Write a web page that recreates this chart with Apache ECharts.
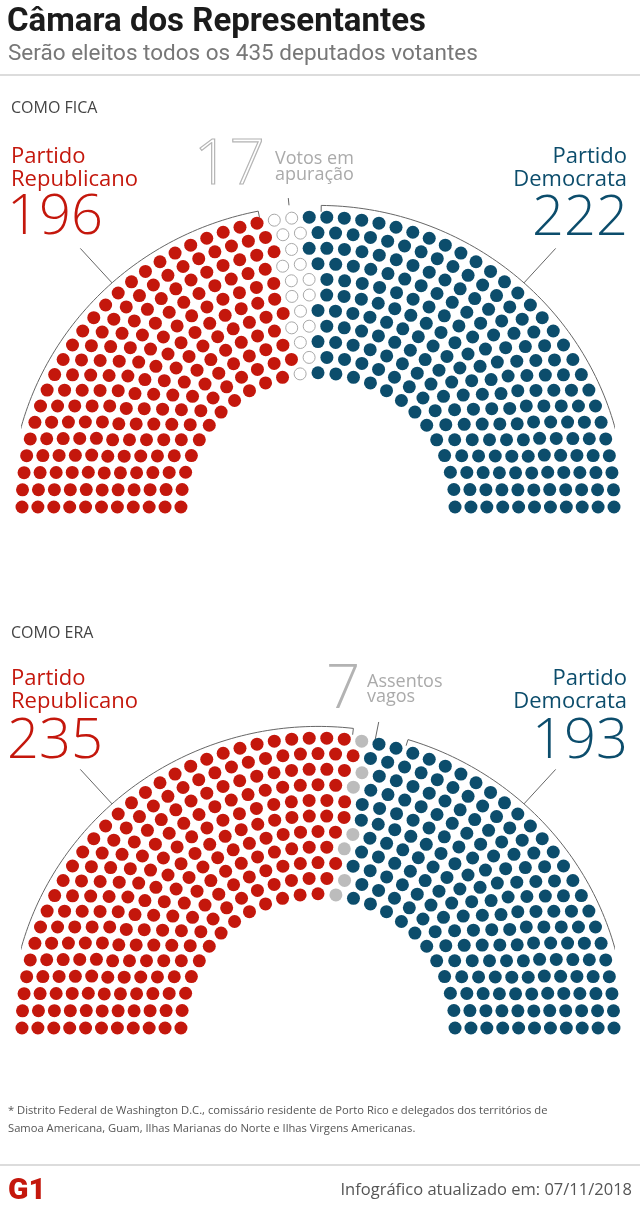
<!DOCTYPE html>
<html>
<head>
<meta charset="utf-8">
<script src="https://cdn.jsdelivr.net/npm/echarts@6/dist/echarts.min.js"></script>
<style>
html,body{margin:0;padding:0;background:#fff;}
#chart{width:640px;height:1220px;}
</style>
</head>
<body>
<div id="chart"></div>
<script>
// ---------------- DATA ----------------
const TOTAL_SEATS = 435;
const RING_COUNT = 11;

const groupsNow = ['Partido Republicano', 'Votos em apuração', 'Partido Democrata'];
const seatsNow = [196, 17, 222];

const groupsBefore = ['Partido Republicano', 'Assentos vagos', 'Partido Democrata'];
const seatsBefore = [235, 7, 193];

const sectionTitles = ['COMO FICA', 'COMO ERA'];

// ---------------- LAYOUT / STYLE ----------------
const INNER_RATIO = 0.463;      // inner ring radius relative to outer ring
const RED = '#c4170c';
const BLUE = '#0c4d6c';
const GREY = '#bcbcbc';
const LINE = '#666';

function ringRadii() {
  const r = [];
  for (let i = 0; i < RING_COUNT; i++) r.push(INNER_RATIO + i * (1 - INNER_RATIO) / (RING_COUNT - 1));
  return r;
}
function ringSeatCounts(total, radii) {
  const sumR = radii.reduce((a, b) => a + b, 0);
  const k = (total - radii.length) / sumR;
  const raw = radii.map(r => r * k + 1);
  const counts = raw.map(v => Math.floor(v));
  const left = total - counts.reduce((a, b) => a + b, 0);
  raw.map((v, i) => [v - counts[i], i]).sort((a, b) => b[0] - a[0])
     .slice(0, left).forEach(p => counts[p[1]]++);
  return counts;
}
function buildSeats(total) {
  const radii = ringRadii();
  const counts = ringSeatCounts(total, radii);
  const seats = [];
  radii.forEach((r, i) => {
    const n = counts[i];
    for (let j = 0; j < n; j++) seats.push({ t: j / (n - 1), r: r });
  });
  seats.sort((a, b) => (a.t - b.t) || (b.r - a.r));
  return seats.map(s => [-s.r * Math.cos(Math.PI * s.t), s.r * Math.sin(Math.PI * s.t)]);
}
function splitSeats(seats, counts) {
  const out = []; let k = 0;
  counts.forEach(c => { out.push(seats.slice(k, k + c)); k += c; });
  return out;
}
function polar(r, deg) {
  const a = deg * Math.PI / 180;
  return [-r * Math.cos(a), r * Math.sin(a)];
}
function arcPath(r, a0, a1) {
  const pts = [];
  const steps = Math.max(2, Math.ceil(Math.abs(a1 - a0)));
  for (let i = 0; i <= steps; i++) pts.push(polar(r, a0 + (a1 - a0) * i / steps));
  return pts;
}
const BR = 1.04;
function bracketLeft(endDeg) {
  const pts = arcPath(BR, -1.3, endDeg);
  const first = pts[0];
  pts.unshift([first[0] + 0.018, first[1]]);
  pts.push(polar(BR - 0.022, endDeg));
  return pts;
}
function bracketRight(startDeg) {
  const pts = arcPath(BR, startDeg, 181.3);
  pts.unshift(polar(BR - 0.022, startDeg));
  const last = pts[pts.length - 1];
  pts.push([last[0] - 0.018, last[1]]);
  return pts;
}
function midAngle(counts, idx) {
  let before = 0; for (let i = 0; i < idx; i++) before += counts[i];
  return (before + counts[idx] / 2) / TOTAL_SEATS * 180;
}

const charts = [
  { counts: seatsNow, names: groupsNow, top: 217, midStyle: 'pending',
    rEnd: 78.8, dStart: 90.6, midTick: [midAngle(seatsNow, 1), 1.045, 1.07] },
  { counts: seatsBefore, names: groupsBefore, top: 738, midStyle: 'vacant',
    rEnd: 96.6, dStart: 107, midTick: [101, 1.01, 1.075] }
];

const grids = [], xAxes = [], yAxes = [], series = [];
charts.forEach((c, gi) => {
  grids.push({ left: 22, width: 592, top: c.top, height: 290 });
  xAxes.push({ gridIndex: gi, type: 'value', min: -1, max: 1, show: false });
  yAxes.push({ gridIndex: gi, type: 'value', min: 0, max: 1, show: false });
  const groups = splitSeats(buildSeats(TOTAL_SEATS), c.counts);
  const styles = [
    { color: RED, opacity: 1 },
    c.midStyle === 'pending' ? { color: '#ffffff', borderColor: '#a9a9a9', borderWidth: 1, opacity: 1 } : { color: GREY, opacity: 1 },
    { color: BLUE, opacity: 1 }
  ];
  groups.forEach((pts, k) => {
    series.push({
      type: 'scatter', name: c.names[k], xAxisIndex: gi, yAxisIndex: gi,
      data: pts, symbol: 'circle',
      symbolSize: (k === 1 && c.midStyle === 'pending') ? 12 : 13,
      itemStyle: styles[k], clip: false, silent: true, animation: false
    });
  });
  const lines = [
    bracketLeft(c.rEnd),
    bracketRight(c.dStart),
    [polar(BR, 48), polar(1.2, 48)],
    [polar(BR, 132), polar(1.2, 132)],
    [polar(c.midTick[1], c.midTick[0]), polar(c.midTick[2], c.midTick[0])]
  ];
  lines.forEach(pts => series.push({
    type: 'line', xAxisIndex: gi, yAxisIndex: gi, data: pts, showSymbol: false,
    symbol: 'none', lineStyle: { color: LINE, width: 1 }, clip: false, silent: true,
    animation: false, z: 1
  }));
});

const F = '"Open Sans", "Noto Sans", sans-serif';
function txt(text, x, y, font, fill, align, vAlign, lineHeight, extra) {
  return Object.assign({
    type: 'text', x: x, y: y, silent: true,
    style: Object.assign({ text: text, font: font, fill: fill, align: align || 'left',
      verticalAlign: vAlign || 'middle', lineHeight: lineHeight }, extra || {})
  });
}

const graphic = [
  txt('Câmara dos Representantes', 7, 23, 'bold 33px "Roboto", sans-serif', '#1b1b1b'),
  txt('Serão eleitos todos os 435 deputados votantes', 8, 54, '22.5px "Roboto", sans-serif', '#777'),
  { type: 'line', shape: { x1: 0, y1: 75, x2: 640, y2: 75 }, style: { stroke: '#d0d0d0', lineWidth: 1.5 }, silent: true },

  txt(sectionTitles[0], 11, 108, '16px ' + F, '#444'),
  txt('Partido\nRepublicano', 11, 145, '22px ' + F, RED, 'left', 'top', 23),
  txt(String(seatsNow[0]), 7, 218, '300 56px ' + F, RED),
  txt(String(seatsNow[1]), 194, 166, '300 62px ' + F, 'transparent', 'left', 'middle', null, { stroke: '#b5b5b5', lineWidth: 1.2 }),
  txt('Votos em\napuração', 275, 151, '18px ' + F, '#aaa', 'left', 'top', 16),
  txt('Partido\nDemocrata', 627, 145, '22px ' + F, BLUE, 'right', 'top', 23),
  txt(String(seatsNow[2]), 628, 219, '300 56px ' + F, BLUE, 'right'),

  txt(sectionTitles[1], 11, 633, '16px ' + F, '#444'),
  txt('Partido\nRepublicano', 11, 667, '22px ' + F, RED, 'left', 'top', 23),
  txt(String(seatsBefore[0]), 7, 742, '300 56px ' + F, RED),
  txt(String(seatsBefore[1]), 326, 691, '300 60px ' + F, '#b3b3b3'),
  txt('Assentos\nvagos', 367, 674, '18px ' + F, '#aaa', 'left', 'top', 15),
  txt('Partido\nDemocrata', 627, 667, '22px ' + F, BLUE, 'right', 'top', 23),
  txt(String(seatsBefore[2]), 628, 742, '300 56px ' + F, BLUE, 'right'),

  txt('* Distrito Federal de Washington D.C., comissário residente de Porto Rico e delegados dos territórios de\nSamoa Americana, Guam, Ilhas Marianas do Norte e Ilhas Virgens Americanas.',
      8, 1102, '11.2px ' + F, '#555', 'left', 'top', 18),
  { type: 'line', shape: { x1: 0, y1: 1165, x2: 640, y2: 1165 }, style: { stroke: '#d0d0d0', lineWidth: 1.5 }, silent: true },
  txt('G1', 8, 1191, '900 30px "Roboto", sans-serif', '#c4170c'),
  txt('Infográfico atualizado em: 07/11/2018', 632, 1190, '16.5px ' + F, '#555', 'right')
];

const chart = echarts.init(document.getElementById('chart'), null, { renderer: 'canvas' });
chart.setOption({
  animation: false,
  backgroundColor: '#ffffff',
  grid: grids, xAxis: xAxes, yAxis: yAxes,
  series: series,
  graphic: graphic
});
</script>
</body>
</html>
